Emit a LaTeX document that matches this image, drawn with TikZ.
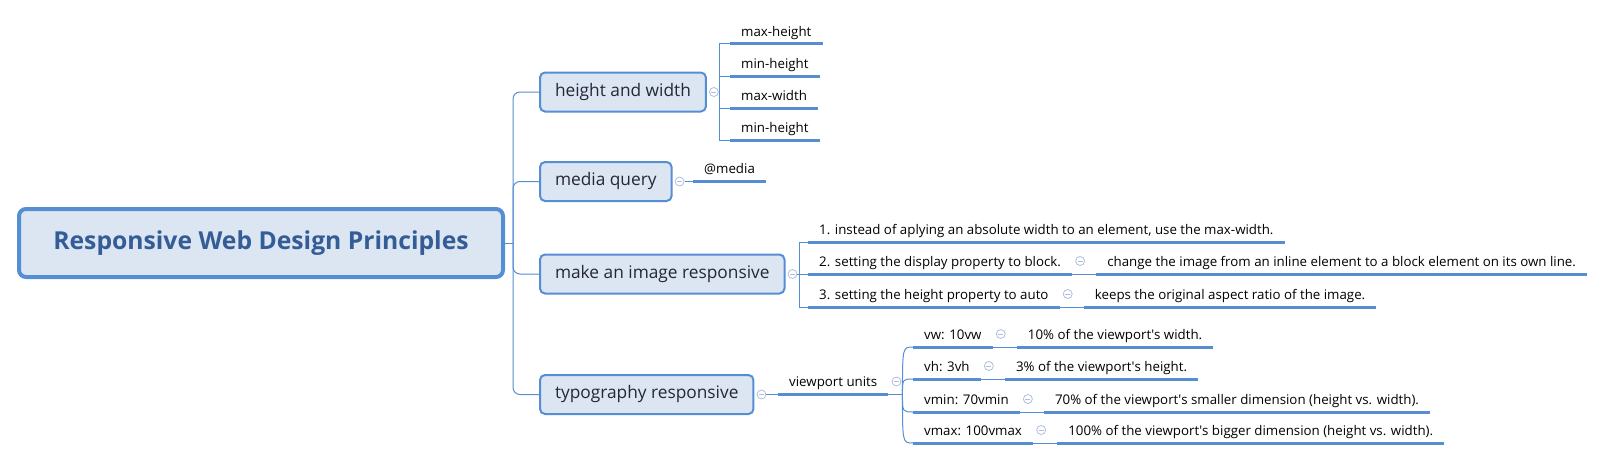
\documentclass[tikz,border=0pt]{standalone}
\usepackage{fontspec}
\setmainfont{Open Sans}
\usetikzlibrary{positioning}

\definecolor{linkblue}{RGB}{86,142,212}
\definecolor{boxfill}{RGB}{220,230,242}
\definecolor{roottext}{RGB}{52,92,150}
\definecolor{branchtext}{RGB}{36,38,58}
\definecolor{foldgray}{RGB}{176,190,222}

\tikzset{
    rootbox/.style={draw=linkblue, line width=4pt, fill=boxfill, rounded corners=7pt,
        minimum width=484pt, minimum height=68pt, text=roottext,
        font=\fontsize{24.7}{28}\selectfont\bfseries},
    branchbox/.style={draw=linkblue, line width=2pt, fill=boxfill, rounded corners=5pt,
        anchor=west, minimum height=39pt, inner xsep=15pt, text=branchtext,
        font=\fontsize{17.3}{20}\selectfont},
    leaf/.style={anchor=south west, inner xsep=11pt, inner ysep=4pt,
        text height=10pt, text depth=3.5pt, font=\fontsize{13.3}{16}\selectfont},
    conn/.style={draw=linkblue, line width=1pt},
    uline/.style={draw=linkblue, line width=3pt},
    fold/.style={circle, draw=foldgray, line width=0.8pt, fill=white, minimum size=9pt, inner sep=0pt,
        path picture={\draw[foldgray, line width=0.8pt]
            ([xshift=-2.5pt]path picture bounding box.center) -- ([xshift=2.5pt]path picture bounding box.center);}}
}

\begin{document}
\begin{tikzpicture}[x=1pt, y=-1pt]
    \useasboundingbox (0,0) rectangle (1605,460);

    % centre
    \node[rootbox] (rwd) at (261,243) {Responsive Web Design Principles};
    \coordinate (rwdj) at (513,243);
    \draw[conn] (rwd.east) -- (rwdj);

    % main branches
    \foreach \n/\y/\t in
        {hw/92/height and width, mq/181.5/media query,
        mi/274/make an image responsive, tr/394.5/typography responsive}
        {
            \node[branchbox] (\n) at (539,\y) {\t};
            \node[fold] (\n-fold) at ([xshift=7pt]\n.east) {};
            \draw[conn, rounded corners=7pt] (rwdj) |- (\n.west);
        }

    % height and width
    \coordinate (hwj) at (719,92);
    \draw[conn] (hw-fold) -- (hwj);
    \foreach \k/\y/\t in {1/44/max-height, 2/76/min-height, 3/108/max-width, 4/140/min-height}
        {
            \node[leaf] (hw\k) at (730,\y) {\t};
            \draw[uline] (hw\k.south west) -- (hw\k.south east);
            \draw[conn] (hwj) |- (hw\k.south west);
        }

    % media query
    \node[leaf] (mq1) at (693,181.5) {@media};
    \draw[uline] (mq1.south west) -- (mq1.south east);
    \draw[conn] (mq-fold) -- (mq1.south west);

    % image
    \coordinate (mij) at (799,274);
    \draw[conn] (mi-fold) -- (mij);
    \foreach \k/\y/\t in
        {1/242/{1. instead of aplying an absolute width to an element, use the max-width.},
        2/274/2. setting the display property to block.,
        3/307/3. setting the height property to auto}
        {
            \node[leaf] (mi\k) at (808,\y) {\t};
            \draw[uline] (mi\k.south west) -- (mi\k.south east);
            \draw[conn] (mij) |- (mi\k.south west);
        }

    % typography
    \node[leaf] (vp) at (778,394.5) {viewport units};
    \draw[uline] (vp.south west) -- (vp.south east);
    \draw[conn] (tr-fold) -- (vp.south west);
    \node[fold] (vp-fold) at ([xshift=8pt,yshift=13pt]vp.south east) {};
    \coordinate (vpj) at ([xshift=14pt]vp.south east);
    \draw[conn] (vp.south east) -- (vpj);
    \foreach \n/\y/\t in {vw/347/vw: 10vw, vh/379/vh: 3vh, vmin/412/vmin: 70vmin, vmax/443/vmax: 100vmax}
        {
            \node[leaf] (\n) at (913,\y) {\t};
            \draw[uline] (\n.south west) -- (\n.south east);
            \draw[conn] (vpj) .. controls (vpj |- \n.south west) .. (\n.south west);
        }

    % details
    \foreach \n/\t in
        {mi2/change the image from an inline element to a block element on its own line.,
        mi3/keeps the original aspect ratio of the image.,
        vw/10\% of the viewport\textquotesingle s width.,
        vh/3\% of the viewport\textquotesingle s height.,
        vmin/70\% of the viewport\textquotesingle s smaller dimension (height vs. width).,
        vmax/100\% of the viewport\textquotesingle s bigger dimension (height vs. width).}
        {
            \node[fold] (\n-fold) at ([xshift=8pt,yshift=13pt]\n.south east) {};
            \node[leaf] (\n-x) at ([xshift=24pt]\n.south east) {\t};
            \draw[uline] (\n-x.south west) -- (\n-x.south east);
            \draw[conn] (\n.south east) -- (\n-x.south west);
        }
\end{tikzpicture}
\end{document}
